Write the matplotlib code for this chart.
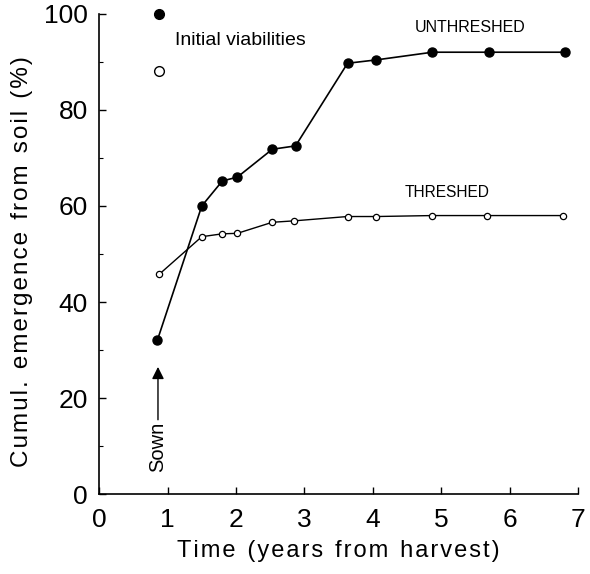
import matplotlib
matplotlib.use("Agg")
import matplotlib.pyplot as plt

# Data
unthreshed_x = [0.85, 1.50, 1.80, 2.02, 2.53, 2.87, 3.63, 4.05, 4.87, 5.69, 6.80]
unthreshed_y = [32.0, 60.0, 65.2, 66.0, 71.8, 72.5, 89.7, 90.4, 92.0, 92.0, 92.0]
threshed_x = [0.88, 1.50, 1.80, 2.02, 2.53, 2.85, 3.63, 4.05, 4.87, 5.67, 6.78]
threshed_y = [45.8, 53.6, 54.2, 54.3, 56.6, 56.9, 57.8, 57.8, 58.0, 58.0, 58.0]
initial_x = [0.88, 0.88]
initial_y = [100.0, 88.0]  # unthreshed (filled), threshed (open)

xticks = [0, 1, 2, 3, 4, 5, 6, 7]
yticks = [0, 20, 40, 60, 80, 100]
yminor = [10, 30, 50, 70, 90]

plt.rcParams['font.family'] = ['Liberation Sans', 'DejaVu Sans']


def spaced(s):
    words = s.split(' ')
    return '\u2002'.join('\u200a'.join(w) for w in words)


fig = plt.figure(figsize=(5.90, 5.74), dpi=100)
ax = fig.add_axes([0.168, 0.139, 0.812, 0.837])

ax.plot(unthreshed_x, unthreshed_y, color='black', lw=1.2, marker='o',
        markersize=6.5, markerfacecolor='black', markeredgecolor='black', clip_on=False)
ax.plot(threshed_x, threshed_y, color='black', lw=1.0, marker='o',
        markersize=4.5, markerfacecolor='white', markeredgecolor='black',
        markeredgewidth=0.9, clip_on=False)
ax.plot(initial_x[0], initial_y[0], marker='o', markersize=7, color='black',
        linestyle='none', clip_on=False)
ax.plot(initial_x[1], initial_y[1], marker='o', markersize=7, markerfacecolor='white',
        markeredgecolor='black', markeredgewidth=1.0, linestyle='none', clip_on=False)

ax.text(1.11, 94.5, 'Initial viabilities', fontsize=14, va='center', ha='left')
ax.text(5.42, 97.2, 'UNTHRESHED', fontsize=11.5, va='center', ha='center')
ax.text(5.08, 62.7, 'THRESHED', fontsize=11.2, va='center', ha='center')

ax.annotate('', xy=(0.86, 26.5), xytext=(0.86, 15.5),
            arrowprops=dict(arrowstyle='-|>', color='black', lw=1.0,
                            mutation_scale=18, shrinkA=0, shrinkB=0))
ax.text(0.86, 9.8, 'Sown', rotation=90, fontsize=14.5, va='center', ha='center')

ax.set_xlim(0, 7)
ax.set_ylim(0, 100)
ax.set_xticks(xticks)
ax.set_yticks(yticks)
ax.set_yticks(yminor, minor=True)
ax.tick_params(axis='both', which='major', direction='in', length=5, width=1,
               labelsize=19, pad=8)
ax.tick_params(axis='x', which='major', pad=10)
ax.tick_params(axis='y', which='minor', direction='in', length=3, width=0.8)
ax.spines['top'].set_visible(False)
ax.spines['right'].set_visible(False)
ax.spines['left'].set_linewidth(1.2)
ax.spines['bottom'].set_linewidth(1.2)

ax.set_xlabel(spaced('Time (years from harvest)'), fontsize=17, labelpad=6)
ax.set_ylabel(spaced('Cumul. emergence from soil (%)'), fontsize=17.5)
ax.yaxis.set_label_coords(-0.138, 0.485)

fig.savefig('out.png', dpi=100)
